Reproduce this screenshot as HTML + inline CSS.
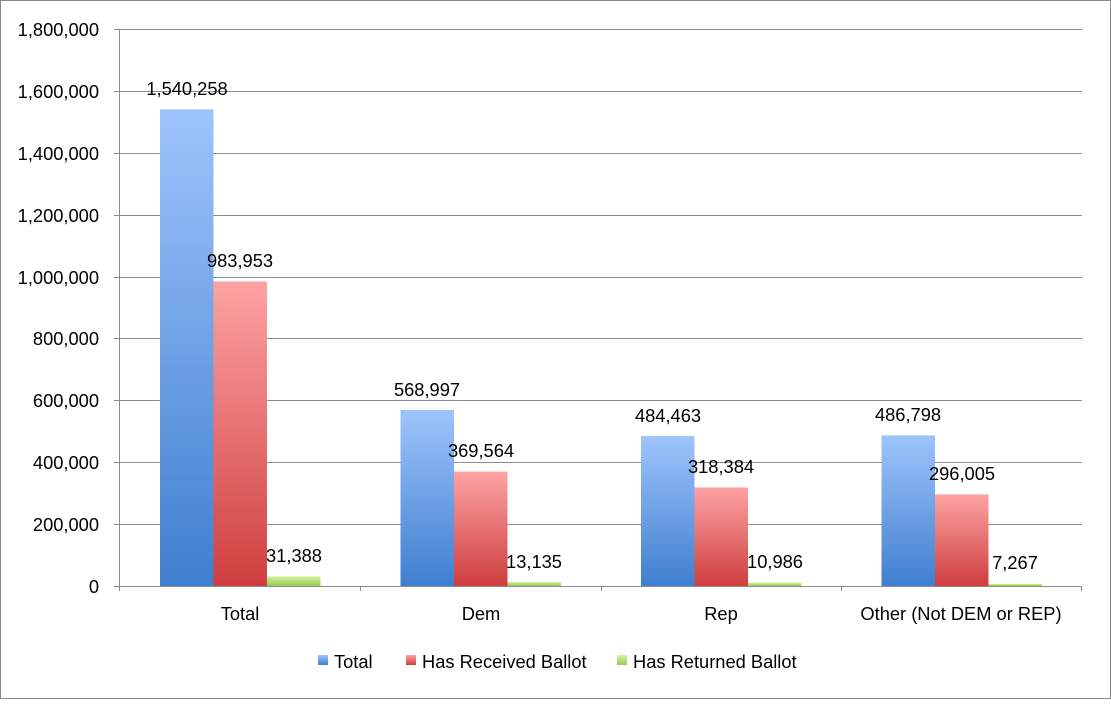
<!DOCTYPE html>
<html><head><meta charset="utf-8"><style>
html,body{margin:0;padding:0;background:#fff}
svg text{font-family:"Liberation Sans",sans-serif;font-size:18.3px;fill:#000}
</style></head><body>
<svg width="1111" height="699" viewBox="0 0 1111 699" xmlns="http://www.w3.org/2000/svg">
<defs>
<linearGradient id="b" x1="0" y1="0" x2="0" y2="1"><stop offset="0" stop-color="#9ec4fc"/><stop offset="1" stop-color="#3f7fcf"/></linearGradient>
<linearGradient id="r" x1="0" y1="0" x2="0" y2="1"><stop offset="0" stop-color="#fda3a3"/><stop offset="1" stop-color="#cf3e3e"/></linearGradient>
<linearGradient id="g" x1="0" y1="0" x2="0" y2="1"><stop offset="0" stop-color="#d6f2a2"/><stop offset="1" stop-color="#98c951"/></linearGradient>
</defs>
<rect x="0.5" y="0.5" width="1110" height="698" fill="#fff" stroke="#888"/>
<g stroke="#8c8c8c" stroke-width="1">
<line x1="114" y1="29.5" x2="1082" y2="29.5"/>
<line x1="114" y1="91.5" x2="1082" y2="91.5"/>
<line x1="114" y1="153.5" x2="1082" y2="153.5"/>
<line x1="114" y1="215.5" x2="1082" y2="215.5"/>
<line x1="114" y1="277.5" x2="1082" y2="277.5"/>
<line x1="114" y1="338.5" x2="1082" y2="338.5"/>
<line x1="114" y1="400.5" x2="1082" y2="400.5"/>
<line x1="114" y1="462.5" x2="1082" y2="462.5"/>
<line x1="114" y1="524.5" x2="1082" y2="524.5"/>
<line x1="119.5" y1="29" x2="119.5" y2="591"/>
<line x1="360.5" y1="586" x2="360.5" y2="591"/>
<line x1="601.5" y1="586" x2="601.5" y2="591"/>
<line x1="841.5" y1="586" x2="841.5" y2="591"/>
<line x1="1081.5" y1="586" x2="1081.5" y2="591"/>
</g>
<g text-anchor="end">
<text x="99" y="36">1,800,000</text><text x="99" y="98">1,600,000</text><text x="99" y="160">1,400,000</text>
<text x="99" y="222">1,200,000</text><text x="99" y="284">1,000,000</text><text x="99" y="345">800,000</text>
<text x="99" y="407">600,000</text><text x="99" y="469">400,000</text><text x="99" y="531">200,000</text><text x="99" y="593">0</text>
</g>
<rect x="160" y="109.4" width="53.5" height="476.6" fill="url(#b)"/>
<rect x="213.5" y="281.5" width="53.5" height="304.5" fill="url(#r)"/>
<rect x="267" y="576.3" width="53.5" height="9.7" fill="url(#g)"/>
<rect x="400.5" y="409.9" width="53.5" height="176.1" fill="url(#b)"/>
<rect x="454" y="471.6" width="53.5" height="114.4" fill="url(#r)"/>
<rect x="507.5" y="581.9" width="53.5" height="4.1" fill="url(#g)"/>
<rect x="641" y="436.1" width="53.5" height="149.9" fill="url(#b)"/>
<rect x="694.5" y="487.5" width="53.5" height="98.5" fill="url(#r)"/>
<rect x="748" y="582.6" width="53.5" height="3.4" fill="url(#g)"/>
<rect x="881.5" y="435.4" width="53.5" height="150.6" fill="url(#b)"/>
<rect x="935" y="494.4" width="53.5" height="91.6" fill="url(#r)"/>
<rect x="988.5" y="583.8" width="53.5" height="2.2" fill="url(#g)"/>
<line x1="114" y1="586.5" x2="1082" y2="586.5" stroke="#8c8c8c"/>
<g text-anchor="middle">
<text x="187" y="95">1,540,258</text><text x="240" y="267">983,953</text><text x="294" y="562">31,388</text>
<text x="427" y="396">568,997</text><text x="481" y="457">369,564</text><text x="534" y="568">13,135</text>
<text x="668" y="422">484,463</text><text x="721" y="473">318,384</text><text x="775" y="568">10,986</text>
<text x="908" y="421">486,798</text><text x="962" y="480">296,005</text><text x="1015" y="569">7,267</text>
<text x="240" y="620">Total</text><text x="481" y="620">Dem</text><text x="721" y="620">Rep</text><text x="961" y="620">Other (Not DEM or REP)</text>
</g>
<rect x="318" y="655" width="10" height="10" fill="url(#b)"/><text x="334" y="668">Total</text>
<rect x="406" y="655" width="10" height="10" fill="url(#r)"/><text x="422" y="668">Has Received Ballot</text>
<rect x="617" y="655" width="10" height="10" fill="url(#g)"/><text x="633" y="668">Has Returned Ballot</text>
</svg>
</body></html>
